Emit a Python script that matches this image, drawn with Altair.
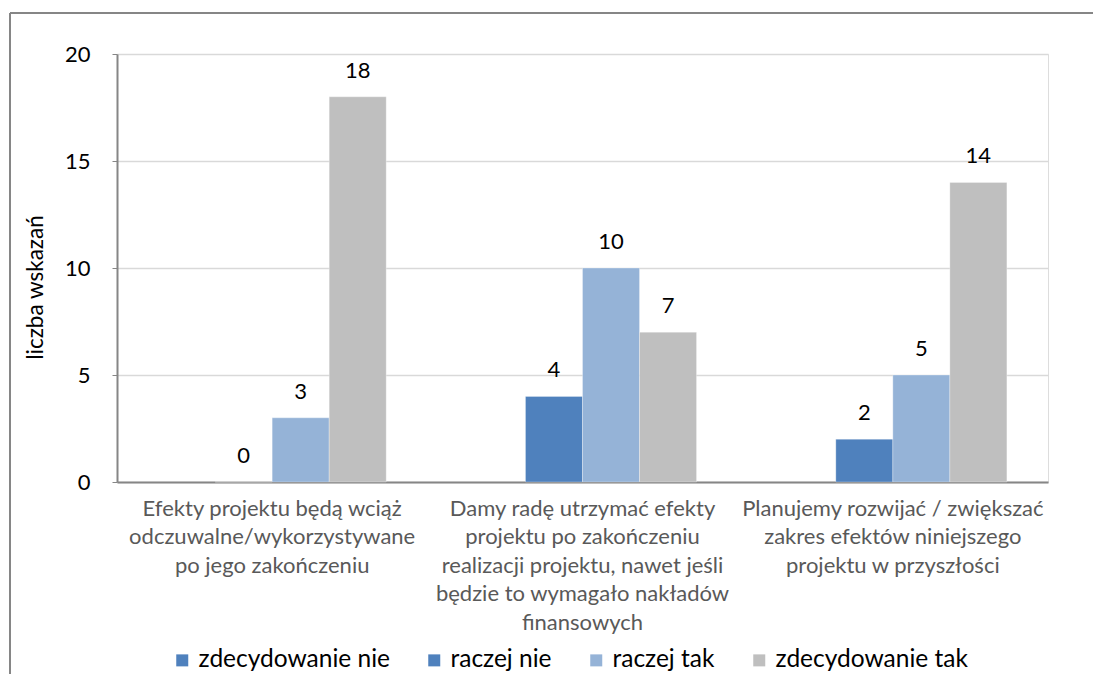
import altair as alt
import pandas as pd

# ---- data ----
cat1_lines = ["Efekty projektu będą wciąż", "odczuwalne/wykorzystywane", "po jego zakończeniu"]
cat2_lines = ["Damy radę utrzymać efekty", "projektu po zakończeniu", "realizacji projektu, nawet jeśli",
              "będzie to wymagało nakładów", "finansowych"]
cat3_lines = ["Planujemy rozwijać / zwiększać", "zakres efektów niniejszego", "projektu w przyszłości"]
categories = ["|".join(cat1_lines), "|".join(cat2_lines), "|".join(cat3_lines)]

series = ["zdecydowanie nie", "raczej nie", "raczej tak", "zdecydowanie tak"]
zdecydowanie_nie = [None, None, None]
raczej_nie = [0, 4, 2]
raczej_tak = [3, 10, 5]
zdecydowanie_tak = [18, 7, 14]
colors = ["#4F81BD", "#4F81BD", "#95B3D7", "#BFBFBF"]

rows = []
for s, vals in zip(series, [zdecydowanie_nie, raczej_nie, raczej_tak, zdecydowanie_tak]):
    for c, v in zip(categories, vals):
        if v is not None:
            rows.append({"cat": c, "series": s, "value": v})
df = pd.DataFrame(rows)

FONT = "Lato"

x = alt.X("cat:N", sort=categories, title=None,
          scale=alt.Scale(domain=categories, paddingInner=0.265, paddingOuter=0.1325),
          axis=alt.Axis(labelExpr="split(datum.label, '|')", labelAngle=0, labelFont=FONT,
                        labelFontSize=22, labelColor="#595959", labelLineHeight=28.5,
                        labelPadding=16, ticks=False, domainColor="#868686", domainWidth=2,
                        labelBaseline="top", grid=False, labelLimit=400))
xo = alt.XOffset("series:N", sort=series,
                 scale=alt.Scale(domain=series, paddingInner=0, paddingOuter=0))
y = alt.Y("value:Q", scale=alt.Scale(domain=[0, 20]),
          axis=alt.Axis(values=[0, 5, 10, 15, 20], title="liczba wskazań", titleFont=FONT,
                        titleFontSize=22.5, titleFontWeight="normal", titleColor="#000000",
                        titleX=-82, titleY=233, titleAngle=-90, titleBaseline="middle",
                        titleAlign="center",
                        labelFont=FONT, labelFontSize=22, labelColor="#000000",
                        labelPadding=22, tickSize=5, tickColor="#868686",
                        domainColor="#868686", domainWidth=2, gridColor="#D9D9D9",
                        gridWidth=1.5))

bars = alt.Chart(df).mark_bar(stroke="#ffffff", strokeWidth=0.5, strokeOpacity=0.6).encode(
    x=x, xOffset=xo, y=y,
    color=alt.Color("series:N", sort=series,
                    scale=alt.Scale(domain=series, range=colors),
                    legend=alt.Legend(title=None, orient="none", direction="horizontal",
                                      legendX=53, legendY=594, symbolType="square",
                                      symbolSize=144, symbolStrokeWidth=0, labelFont=FONT,
                                      labelFontSize=24.5, labelColor="#000000", labelOffset=4,
                                      columnPadding=32, padding=0, labelLimit=400)),
)

labels = alt.Chart(df).mark_text(dy=-19, baseline="alphabetic", font=FONT, fontSize=22,
                                 color="#000000").encode(
    x=x, xOffset=xo, y=y, text=alt.Text("value:Q"))

frame_left = alt.Chart(df).mark_rule(color="#868686", strokeWidth=2).encode(
    x=alt.value(-107), y=alt.value(-41), y2=alt.value(700))
frame_top = alt.Chart(df).mark_rule(color="#868686", strokeWidth=2).encode(
    x=alt.value(-107), x2=alt.value(1000), y=alt.value(-41))

chart = alt.layer(bars, labels, frame_left, frame_top).properties(
    width=931, height=428,
    autosize=alt.AutoSizeParams(type="none"),
    padding={"left": 109, "top": 46, "right": 45, "bottom": 192},
).configure_view(stroke=None).configure(background="#ffffff")

chart.save("out.html", embed_options={"renderer": "svg", "actions": False})
